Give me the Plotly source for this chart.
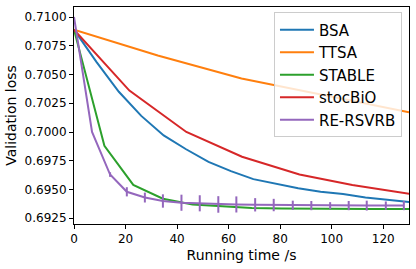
import plotly.graph_objects as go

# --- data ---
bsa_x = [0, 8.7, 17.4, 26.1, 34.8, 43.5, 52.2, 60.9, 69.6, 78.3, 87, 95.7, 104.4, 113.1, 121.8, 130.5]
bsa_y = [0.7089, 0.7061, 0.7035, 0.7014, 0.6997, 0.6985, 0.6974, 0.6966, 0.6959, 0.6955, 0.6951, 0.6948, 0.6946, 0.6943, 0.6941, 0.6939]

ttsa_x = [0, 32.5, 65, 97.5, 130]
ttsa_y = [0.7089, 0.70665, 0.70465, 0.7032, 0.70172]

stable_x = [0, 11.8, 23, 34.5, 46, 57.5, 69, 80.5, 92, 103.5, 115, 126.5, 138]
stable_y = [0.7089, 0.6988, 0.6954, 0.6942, 0.6937, 0.69352, 0.6934, 0.69335, 0.69332, 0.6933, 0.6933, 0.6933, 0.6933]

stoc_x = [0, 21.5, 43.6, 65.2, 87.5, 108, 130.8]
stoc_y = [0.7089, 0.7036, 0.7000, 0.69785, 0.6963, 0.6954, 0.6946]

rsvrb_x = [0, 7, 14, 20.5, 27.5, 34.5, 41.7, 48.8, 56, 63, 70.3, 77.5, 84.9, 92.1, 99.4, 106.6, 113.6, 121, 128]
rsvrb_y = [0.7100, 0.7000, 0.6963, 0.6948, 0.6943, 0.6940, 0.69385, 0.6938, 0.6937, 0.6937, 0.69367, 0.69365, 0.69363, 0.6936, 0.6936, 0.6936, 0.6936, 0.6936, 0.6936]
rsvrb_err = [0, 0, 0.0002, 0.0004, 0.00043, 0.00058, 0.0007, 0.0007, 0.00072, 0.0007, 0.00058, 0.00054, 0.0004, 0.0004, 0.0003, 0.0004, 0.00043, 0.00036, 0.0004]

x_ticks = [0, 20, 40, 60, 80, 100, 120]
y_ticks = [0.6925, 0.6950, 0.6975, 0.7000, 0.7025, 0.7050, 0.7075, 0.7100]

FONT = "DejaVu Sans"

fig = go.Figure()
series = [
    ("BSA", bsa_x, bsa_y, "#1f77b4"),
    ("TTSA", ttsa_x, ttsa_y, "#ff7f0e"),
    ("STABLE", stable_x, stable_y, "#2ca02c"),
    ("stocBiO", stoc_x, stoc_y, "#d62728"),
]
for name, xs, ys, c in series:
    fig.add_trace(go.Scatter(x=xs, y=ys, mode="lines", name=name,
                             line=dict(color=c, width=2)))

fig.add_trace(go.Scatter(
    x=rsvrb_x, y=rsvrb_y, mode="lines", name="RE-RSVRB",
    line=dict(color="#9467bd", width=2),
    error_y=dict(type="data", array=rsvrb_err, visible=True,
                 color="#9467bd", thickness=2, width=0)))

axis_common = dict(
    showline=True, linecolor="black", linewidth=1, mirror=True,
    ticks="outside", ticklen=4, tickcolor="black", tickwidth=1,
    showgrid=False, zeroline=False, automargin=False,
    tickfont=dict(family=FONT, size=12, color="black"),
)

fig.update_layout(
    width=416, height=269,
    margin=dict(l=74, r=7, t=7, b=45),
    paper_bgcolor="white", plot_bgcolor="white",
    font=dict(family=FONT, color="black"),
    xaxis=dict(range=[0, 130], tickvals=x_ticks,
               title=dict(text="Running time /s", font=dict(family=FONT, size=14), standoff=4),
               **axis_common),
    yaxis=dict(range=[0.6920, 0.71087], tickvals=y_ticks, tickformat=".4f",
               title=dict(text="Validation loss", font=dict(family=FONT, size=14), standoff=4),
               **axis_common),
    legend=dict(x=0.979, y=0.975, xanchor="right", yanchor="top",
                bgcolor="rgba(255,255,255,0.8)", bordercolor="#cccccc", borderwidth=1,
                font=dict(family=FONT, size=15, color="black"),
                tracegroupgap=0, itemwidth=34),
    showlegend=True,
)

fig.write_html("out.html", config={"displayModeBar": False},
               post_script="document.body.style.margin='0';document.body.style.overflow='hidden';")
